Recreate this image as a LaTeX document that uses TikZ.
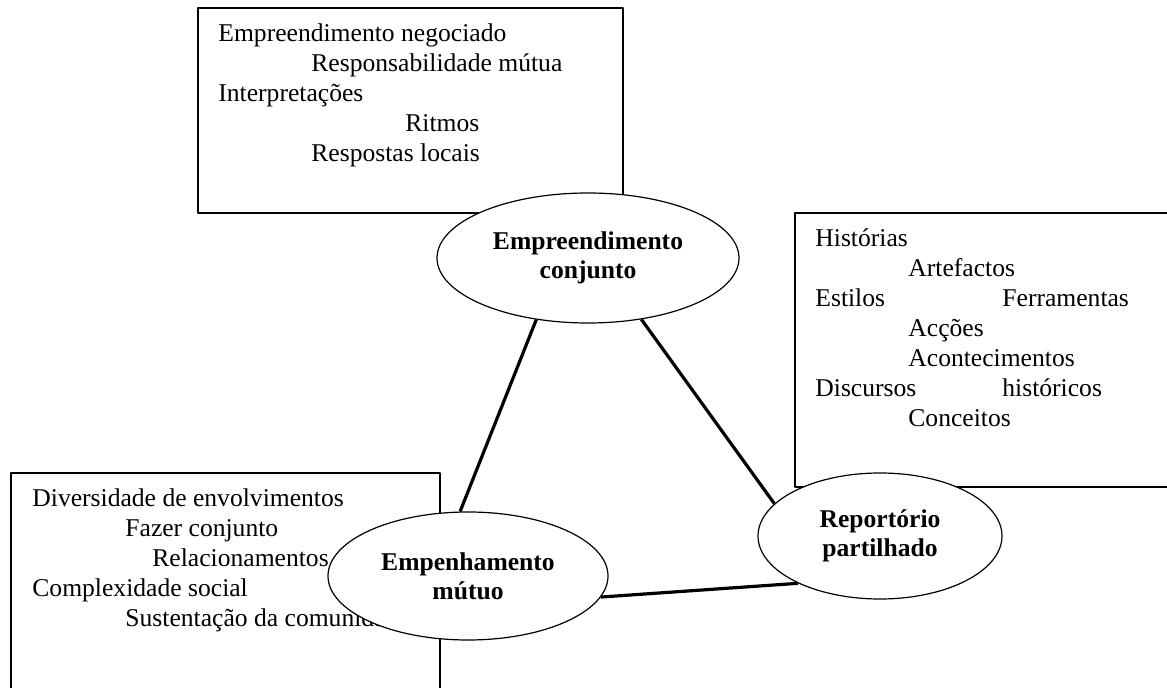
\documentclass[tikz,border=0pt]{standalone}
\usepackage{fontspec}
\setmainfont{Liberation Serif}
\usetikzlibrary{shapes.geometric}
\tikzset{
	bubble/.style={ellipse,draw,line width=.6pt,fill=white,inner sep=0pt,align=center,font=\fontsize{12.8pt}{14.5pt}\selectfont\bfseries},
	notes/.style={anchor=base west,inner sep=0pt,font=\fontsize{12.8pt}{15pt}\selectfont},
	frame/.style={line width=.7pt},
	link/.style={line width=1.6pt}
}
\newcommand{\notecol}[1]{\parbox[t]{200pt}{#1}}
\begin{document}
\begin{tikzpicture}[x=.5pt,y=-.5pt,line join=round]
			\useasboundingbox (0,0) rectangle (1167,688);
			\def\tabA{46.5pt} \def\tabB{93.5pt}
			% the three boxes
			\draw[frame] (198,8) rectangle (623,213);
			\draw[frame] (795,213) rectangle (1180,487);
			\draw[frame] (11,473) rectangle (440,700);
			\node[notes] (negnotes) at (218,42) {\notecol{Empreendimento negociado\\
					\hspace*{\tabA}Responsabilidade mútua\\
					Interpretações\\
					\hspace*{\tabB}Ritmos\\
					\hspace*{\tabA}Respostas locais}};
			\node[notes] (repnotes) at (815,247) {\notecol{Histórias\\
					\hspace*{\tabA}Artefactos\\
					\makebox[\tabB][l]{Estilos}Ferramentas\\
					\hspace*{\tabA}Acções\\
					\hspace*{\tabA}Acontecimentos\\
					\makebox[\tabB][l]{Discursos}históricos\\
					\hspace*{\tabA}Conceitos}};
			\node[notes] (mutnotes) at (32,507) {\notecol{Diversidade de envolvimentos\\
					\hspace*{\tabA}Fazer conjunto\\
					\hspace*{60pt}Relacionamentos\\
					Complexidade social\\
					\hspace*{\tabA}Sustentação da comunidade}};
			% the three ellipses
			\node[bubble,minimum width=151pt,minimum height=65pt] (joint) at (588,258) {Empreendimento\\conjunto};
			\node[bubble,minimum width=140pt,minimum height=64pt] (mutual) at (468,576) {Empenhamento\\mútuo};
			\node[bubble,minimum width=122pt,minimum height=63pt] (shared) at (880,536) {Reportório\\partilhado};
			\draw[link] (joint.230)--(mutual.97);
			\draw[link] (joint.311)--(shared.163);
			\draw[link] (mutual.351)--(shared.210);
\end{tikzpicture}
\end{document}
